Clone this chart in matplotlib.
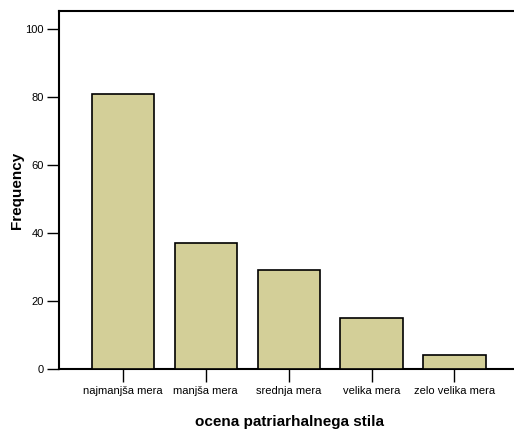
import matplotlib.pyplot as plt
import numpy as np

categories = ['najmanjša mera', 'manjša mera', 'srednja mera', 'velika mera', 'zelo velika mera']
frequencies = [81, 37, 29, 15, 4]

plt.rcParams['font.family'] = ['Liberation Sans', 'DejaVu Sans']

fig = plt.figure(figsize=(5.14, 4.30), dpi=100)
ax = fig.add_axes([59 / 514, 61 / 430, 1 - 59 / 514 + 0.01, 358 / 430])

index = np.arange(len(categories))
ax.bar(index, frequencies, 0.75, color='#D3CF98', edgecolor='black', linewidth=1.2, zorder=3)

ax.set_xlim(-0.77, 4.78)
ax.set_ylim(0, 105.3)

ax.spines['right'].set_visible(False)
for side in ['left', 'top', 'bottom']:
    ax.spines[side].set_linewidth(1.5)

ax.set_yticks([0, 20, 40, 60, 80, 100])
ax.set_xticks(index)
ax.set_xticklabels(categories)
ax.tick_params(axis='both', labelsize=8, length=9, width=1.0, direction='out', color='black')
ax.tick_params(axis='y', pad=2)
ax.tick_params(axis='x', pad=3)

ax.set_ylabel('Frequency', fontsize=11, fontweight='bold', va='center')
ax.yaxis.set_label_coords(-0.091, 0.5)
ax.set_xlabel('ocena patriarhalnega stila', fontsize=11, fontweight='bold', labelpad=14)

plt.savefig('out.png', dpi=100)
